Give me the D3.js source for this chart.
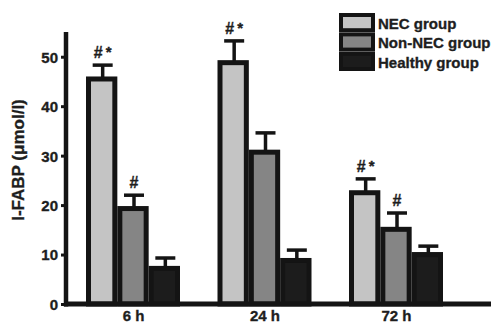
<!DOCTYPE html>
<html>
<head>
<meta charset="utf-8">
<script src="https://cdn.jsdelivr.net/npm/d3@7"></script>
<style>
  html, body { margin: 0; padding: 0; background: #fff; }
  svg { display: block; font-family: "Liberation Sans", Arial, sans-serif; font-weight: bold; }
  svg text { stroke: #1e1e1e; stroke-width: 0.35px; }
</style>
</head>
<body>
<svg id="chart" width="493" height="325"></svg>
<script>
// I-FABP levels per time point and group (mean with upward SEM bar)
const timePoints = ["6 h", "24 h", "72 h"];
const groups = ["NEC group", "Non-NEC group", "Healthy group"];
const necMean = [45.5, 48.8, 22.5];
const necErr = [2.8, 4.4, 2.8];
const nonNecMean = [19.3, 30.7, 15.1];
const nonNecErr = [2.7, 3.9, 3.3];
const healthyMean = [7.2, 8.8, 10.0];
const healthyErr = [2.1, 2.1, 1.7];
const necSig = ["#*", "#*", "#*"];
const nonNecSig = ["#", "", "#"];
const healthySig = ["", "", ""];
const yTicks = [0, 10, 20, 30, 40, 50];
const fills = ["#c4c4c4", "#858585", "#1c1c1c"];

const series = [
  { name: groups[0], mean: necMean, err: necErr, sig: necSig, fill: fills[0] },
  { name: groups[1], mean: nonNecMean, err: nonNecErr, sig: nonNecSig, fill: fills[1] },
  { name: groups[2], mean: healthyMean, err: healthyErr, sig: healthySig, fill: fills[2] }
];

const ink = "#141414";
const textInk = "#1e1e1e";
const svg = d3.select("#chart");

const y = d3.scaleLinear().domain([0, 55]).range([304, 32]);
const x = d3.scalePoint().domain(timePoints).range([133, 396]);
const inner = d3.scaleBand().domain(groups).range([-47, 47]).padding(0);
const sw = 5;

// bars with error bars and significance marks
const rows = [];
series.forEach(s => timePoints.forEach((t, i) => rows.push({ s, t, v: s.mean[i], e: s.err[i], sig: s.sig[i] })));

const barG = svg.append("g");
rows.forEach(d => {
  const x0 = x(d.t) + inner(d.s.name);
  const cx = x0 + inner.bandwidth() / 2;
  barG.append("line")
    .attr("x1", cx + 1).attr("x2", cx + 1)
    .attr("y1", y(d.v)).attr("y2", y(d.v + d.e))
    .attr("stroke", ink).attr("stroke-width", 3.5);
  barG.append("line")
    .attr("x1", cx - 9).attr("x2", cx + 11)
    .attr("y1", y(d.v + d.e)).attr("y2", y(d.v + d.e))
    .attr("stroke", ink).attr("stroke-width", 3.5);
  barG.append("rect")
    .attr("x", x0 + sw / 2)
    .attr("y", y(d.v))
    .attr("width", inner.bandwidth() - sw)
    .attr("height", y(0) - y(d.v))
    .attr("fill", d.s.fill)
    .attr("stroke", ink)
    .attr("stroke-width", sw);
  if (d.sig) {
    const t = barG.append("text")
      .attr("x", cx + 1)
      .attr("y", y(d.v + d.e) - 7)
      .attr("text-anchor", "middle")
      .attr("font-size", 16)
      .attr("fill", textInk);
    t.append("tspan").text("#");
    if (d.sig.includes("*")) {
      t.append("tspan").attr("dx", 3).attr("dy", -1).attr("font-size", 15).text("*");
    }
  }
});

// y axis
const yAxis = d3.axisLeft(y).tickValues(yTicks).tickSize(5).tickPadding(3);
const yg = svg.append("g").attr("transform", "translate(66,0)").call(yAxis);
yg.select(".domain").remove();
yg.selectAll(".tick line").attr("stroke", ink).attr("stroke-width", 3);
yg.selectAll(".tick text").attr("font-size", 15).attr("font-weight", "bold")
  .attr("font-family", "Liberation Sans, Arial, sans-serif").attr("fill", textInk).attr("dy", "0.36em");
svg.append("line").attr("x1", 66).attr("x2", 66).attr("y1", 32).attr("y2", 306.5)
  .attr("stroke", ink).attr("stroke-width", 4.5);

// x axis
const xAxis = d3.axisBottom(x).tickSize(0).tickPadding(6);
const xg = svg.append("g").attr("transform", "translate(0,304)").call(xAxis);
xg.select(".domain").remove();
xg.selectAll(".tick text").attr("font-size", 15).attr("font-weight", "bold")
  .attr("font-family", "Liberation Sans, Arial, sans-serif").attr("fill", textInk);
svg.append("line").attr("x1", 64).attr("x2", 491).attr("y1", 304).attr("y2", 304)
  .attr("stroke", ink).attr("stroke-width", 5);

// y axis title
svg.append("text")
  .attr("transform", "translate(24,160) rotate(-90)")
  .attr("text-anchor", "middle")
  .attr("font-size", 17)
  .attr("fill", textInk)
  .text("I-FABP (μmol/l)");

// legend: stacked swatches with labels
const lg = svg.append("g").attr("transform", "translate(341,15)");
series.forEach((s, i) => {
  lg.append("rect")
    .attr("x", 0).attr("y", i * 19.4)
    .attr("width", 32).attr("height", 15.2)
    .attr("fill", s.fill).attr("stroke", ink).attr("stroke-width", 4);
  lg.append("text")
    .attr("x", 37).attr("y", i * 19.4 + 14)
    .attr("font-size", 15).attr("fill", textInk)
    .text(s.name);
});
</script>
</body>
</html>
